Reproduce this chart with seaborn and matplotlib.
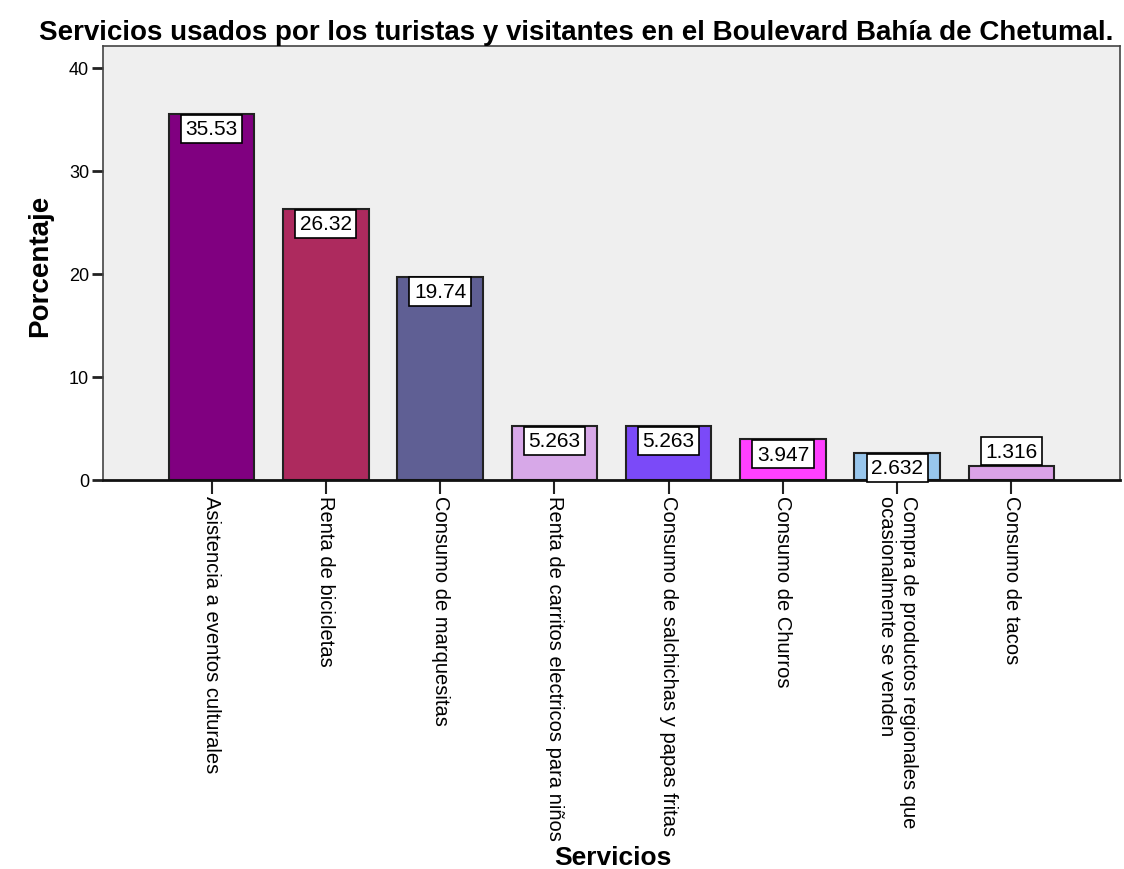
import matplotlib
matplotlib.use("Agg")
import pandas as pd
import matplotlib.pyplot as plt
import seaborn as sns

# Datos
servicios = [
    "Asistencia a eventos culturales",
    "Renta de bicicletas",
    "Consumo de marquesitas",
    "Renta de carritos electricos para niños",
    "Consumo de salchichas y papas fritas",
    "Consumo de Churros",
    "Compra de productos regionales que\nocasionalmente se venden",
    "Consumo de tacos",
]
porcentajes = [35.53, 26.32, 19.74, 5.263, 5.263, 3.947, 2.632, 1.316]
etiquetas = ["35.53", "26.32", "19.74", "5.263", "5.263", "3.947", "2.632", "1.316"]
colores = ["#800080", "#ad2a5e", "#5f5f94", "#d7a8e8",
           "#7b4af8", "#ff40ff", "#98c6ec", "#dba2e8"]

sns.set_style("white")
plt.rcParams['font.family'] = ['Liberation Sans', 'DejaVu Sans']
plt.rcParams['text.color'] = 'black'
plt.rcParams['xtick.color'] = 'black'
plt.rcParams['ytick.color'] = 'black'

df = pd.DataFrame({'Servicios': servicios, 'Porcentaje': porcentajes})

W, H = 1124, 870
fig = plt.figure(figsize=(W / 100, H / 100), dpi=100)
ax = fig.add_axes([103 / W, 1 - 481 / H, 1017 / W, 434 / H])
ax.set_facecolor("#efefef")

sns.barplot(data=df, x='Servicios', y='Porcentaje', hue='Servicios',
            palette=colores, legend=False, saturation=1, width=0.75,
            edgecolor='#222222', linewidth=1.5, ax=ax)

# etiquetas de valor en cajas blancas
for i, (v, t) in enumerate(zip(porcentajes, etiquetas)):
    if v < 2:
        off, va = 4, 'bottom'
    else:
        off, va = -4, 'top'
    ax.annotate(t, (i, v), xytext=(0, off), textcoords='offset points',
                ha='center', va=va, fontsize=15, zorder=5,
                bbox=dict(boxstyle='square,pad=0.22', fc='white', ec='black', lw=1.2))

ax.set_xlim(-0.95, 7.95)
ax.set_ylim(0, 42.1)
ax.set_yticks([0, 10, 20, 30, 40])
ax.set_xticks(range(len(servicios)))
ax.set_xticklabels(servicios, rotation=-90, ha='center', va='top',
                   multialignment='left')
ax.tick_params(axis='y', left=True, length=8, width=2, labelsize=13,
               pad=2, color='#222222')
ax.tick_params(axis='x', bottom=True, length=10, width=1.5, labelsize=14.5,
               pad=1, color='#222222')
ax.set_xlabel('')
ax.set_ylabel('')

for side in ['top', 'right', 'left']:
    ax.spines[side].set_color('#444444')
    ax.spines[side].set_linewidth(1.2)
ax.spines['bottom'].set_color('#111111')
ax.spines['bottom'].set_linewidth(2)

fig.text(576 / W, 1 - 33 / H,
         "Servicios usados por los turistas y visitantes en el Boulevard Bahía de Chetumal.",
         ha='center', va='center', fontsize=20, fontweight='bold')
fig.text(613 / W, 1 - 858 / H, "Servicios", ha='center', va='center',
         fontsize=19, fontweight='bold')
fig.text(40 / W, 1 - 266 / H, "Porcentaje", ha='center', va='center',
         rotation=90, fontsize=20, fontweight='bold')

fig.savefig("out.png", dpi=100)
